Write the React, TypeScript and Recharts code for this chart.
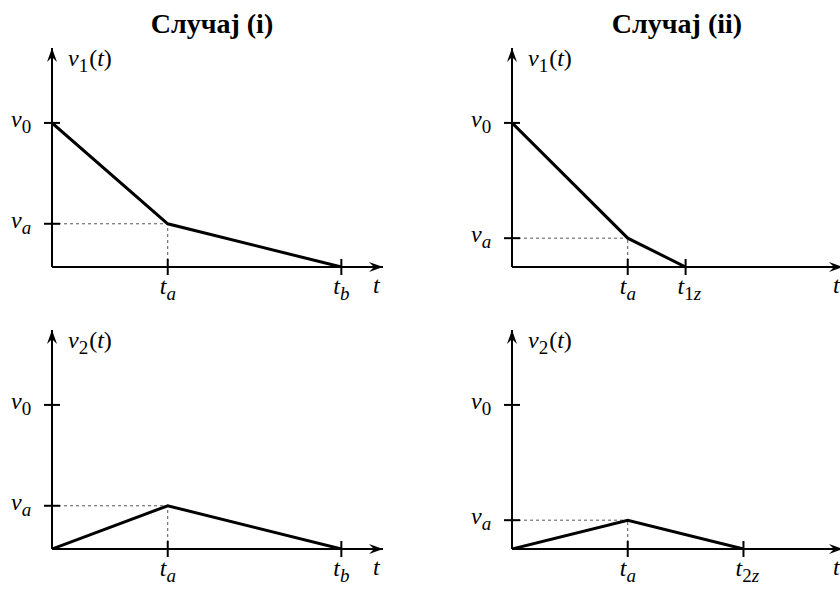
import React from 'react';
import { LineChart, Line, XAxis, YAxis, ReferenceLine, ReferenceDot } from 'recharts';

// ---- data ----
const caseTitles = ['Случај (i)', 'Случај (ii)'];
const yAxisLabels = ['v_1(t)', 'v_2(t)'];
const xAxisLabel = 't';

const caseITime = [0, 1, 2.5];
const caseIV1 = [1, 0.3, 0];
const caseIV2 = [0, 0.3, 0];

const caseIITime1 = [0, 1, 1.5];
const caseIIV1 = [1, 0.2, 0];
const caseIITime2 = [0, 1, 2];
const caseIIV2 = [0, 0.2, 0];

const V0 = 1;
const TA = 1;
const VA_I = 0.3;
const VA_II = 0.2;
const TB = 2.5;
const T1Z = 1.5;
const T2Z = 2;
const X_MAX = 2.86;
const Y_MAX = 1.52;

const xTicksI = [TA, TB];
const xTickLabelsI = ['t_a', 't_b'];
const xTicksII1 = [TA, T1Z];
const xTickLabelsII1 = ['t_a', 't_{1z}'];
const xTicksII2 = [TA, T2Z];
const xTickLabelsII2 = ['t_a', 't_{2z}'];
const yTickLabels = ['v_a', 'v_0'];

// ---- layout constants ----
const PLOT_W = 331;
const CHART_H = 307;
const TOP_M = 48;
const X_AXIS_H = 40;
const FONT = "'Liberation Serif'";
const MAIN_SIZE = 24;
const SUB_SIZE = 19;
const SUB_DY = 6;

const toRows = (ts: number[], vs: number[]) => ts.map((t, i) => ({ t, v: vs[i] }));

function MathText({ tex, x, y }: { tex: string; x: number; y: number }) {
  const tokens: { ch: string; sub: boolean }[] = [];
  let i = 0;
  while (i < tex.length) {
    const c = tex[i];
    if (c === '_') {
      i++;
      if (tex[i] === '{') {
        i++;
        while (i < tex.length && tex[i] !== '}') {
          tokens.push({ ch: tex[i], sub: true });
          i++;
        }
        i++;
      } else {
        tokens.push({ ch: tex[i], sub: true });
        i++;
      }
    } else {
      tokens.push({ ch: c, sub: false });
      i++;
    }
  }
  let cur = 0;
  const spans = tokens.map((tk, k) => {
    const target = tk.sub ? SUB_DY : 0;
    const dy = target - cur;
    cur = target;
    const italic = /[a-z]/i.test(tk.ch);
    return (
      <tspan
        key={k}
        dy={dy}
        dx={!tk.sub && k > 0 && tokens[k - 1].sub ? 1 : 0}
        fontSize={tk.sub ? SUB_SIZE : MAIN_SIZE}
        fontStyle={italic ? 'italic' : 'normal'}
      >
        {tk.ch}
      </tspan>
    );
  });
  return (
    <text x={x} y={y} style={{ fontFamily: FONT }} fill="#000">
      {spans}
    </text>
  );
}

function makeYTick(values: number[], labels: string[]) {
  return (props: any) => {
    const { x, y, payload } = props;
    const idx = values.indexOf(payload.value);
    return (
      <g>
        <line x1={x - 8} x2={x + 8} y1={y} y2={y} stroke="#000" strokeWidth={2} />
        <MathText tex={labels[idx] ?? ''} x={x - 41} y={y + 4} />
      </g>
    );
  };
}

function makeXTick(values: number[], labels: string[]) {
  return (props: any) => {
    const { x, y, payload } = props;
    const idx = values.indexOf(payload.value);
    return (
      <g>
        <line x1={x} x2={x} y1={y - 8} y2={y + 8} stroke="#000" strokeWidth={2} />
        <MathText tex={labels[idx] ?? ''} x={x - 8} y={y + 27} />
      </g>
    );
  };
}

function arrowRight(props: any) {
  const { cx, cy } = props;
  return (
    <g>
      <path d={`M${cx},${cy} L${cx - 14},${cy - 5} L${cx - 9},${cy} L${cx - 14},${cy + 5} Z`} fill="#000" />
      <MathText tex={xAxisLabel} x={cx - 10} y={cy + 26} />
    </g>
  );
}

function makeArrowUp(label: string) {
  return (props: any) => {
    const { cx, cy } = props;
    return (
      <g>
        <path d={`M${cx},${cy} L${cx - 5},${cy + 14} L${cx},${cy + 9} L${cx + 5},${cy + 14} Z`} fill="#000" />
        <MathText tex={label} x={cx + 16} y={cy + 18} />
      </g>
    );
  };
}

function Panel(p: {
  left: number;
  top: number;
  width: number;
  yAxisWidth: number;
  times: number[];
  values: number[];
  va: number;
  xTicks: number[];
  xLabels: string[];
  yLabel: string;
}) {
  const data = toRows(p.times, p.values);
  const yTicks = [p.va, V0];
  return (
    <div style={{ position: 'absolute', left: p.left, top: p.top }}>
      <LineChart
        width={p.width}
        height={CHART_H}
        data={data}
        margin={{ top: TOP_M, right: p.width - p.yAxisWidth - PLOT_W, bottom: 0, left: 0 }}
      >
        <XAxis
          type="number"
          dataKey="t"
          domain={[0, X_MAX]}
          ticks={p.xTicks}
          interval={0}
          allowDataOverflow
          height={X_AXIS_H}
          axisLine={{ stroke: '#000', strokeWidth: 2 }}
          tickLine={false}
          tickSize={0}
          tickMargin={0}
          tick={makeXTick(p.xTicks, p.xLabels)}
        />
        <YAxis
          type="number"
          domain={[0, Y_MAX]}
          ticks={yTicks}
          interval={0}
          allowDataOverflow
          width={p.yAxisWidth}
          axisLine={{ stroke: '#000', strokeWidth: 2 }}
          tickLine={false}
          tickSize={0}
          tickMargin={0}
          tick={makeYTick(yTicks, yTickLabels)}
        />
        <ReferenceLine
          segment={[{ x: 0, y: p.va }, { x: TA, y: p.va }]}
          stroke="#555"
          strokeWidth={1}
          strokeDasharray="3 3"
          ifOverflow="visible"
        />
        <ReferenceLine
          segment={[{ x: TA, y: 0 }, { x: TA, y: p.va }]}
          stroke="#555"
          strokeWidth={1}
          strokeDasharray="3 3"
          ifOverflow="visible"
        />
        <Line
          type="linear"
          dataKey="v"
          stroke="#000"
          strokeWidth={3}
          dot={false}
          activeDot={false}
          isAnimationActive={false}
        />
        <ReferenceDot x={X_MAX} y={0} r={1} ifOverflow="visible" shape={arrowRight} />
        <ReferenceDot x={0} y={Y_MAX} r={1} ifOverflow="visible" shape={makeArrowUp(p.yLabel)} />
      </LineChart>
    </div>
  );
}

export default function App() {
  return (
    <div style={{ position: 'absolute', left: 0, top: 0, width: 840, height: 589, overflow: 'hidden', background: '#fff' }}>
      <div style={{ position: 'absolute', left: 92, top: 10, width: 240, textAlign: 'center', fontFamily: FONT, fontSize: 28, lineHeight: '28px' }}>
        <b>{caseTitles[0]}</b>
      </div>
      <div style={{ position: 'absolute', left: 557, top: 10, width: 240, textAlign: 'center', fontFamily: FONT, fontSize: 28, lineHeight: '28px' }}>
        <b>{caseTitles[1]}</b>
      </div>
      <Panel left={0} top={0} width={420} yAxisWidth={52} times={caseITime} values={caseIV1} va={VA_I} xTicks={xTicksI} xLabels={xTickLabelsI} yLabel={yAxisLabels[0]} />
      <Panel left={0} top={282} width={420} yAxisWidth={52} times={caseITime} values={caseIV2} va={VA_I} xTicks={xTicksI} xLabels={xTickLabelsI} yLabel={yAxisLabels[1]} />
      <Panel left={420} top={0} width={430} yAxisWidth={92} times={caseIITime1} values={caseIIV1} va={VA_II} xTicks={xTicksII1} xLabels={xTickLabelsII1} yLabel={yAxisLabels[0]} />
      <Panel left={420} top={282} width={430} yAxisWidth={92} times={caseIITime2} values={caseIIV2} va={VA_II} xTicks={xTicksII2} xLabels={xTickLabelsII2} yLabel={yAxisLabels[1]} />
    </div>
  );
}
